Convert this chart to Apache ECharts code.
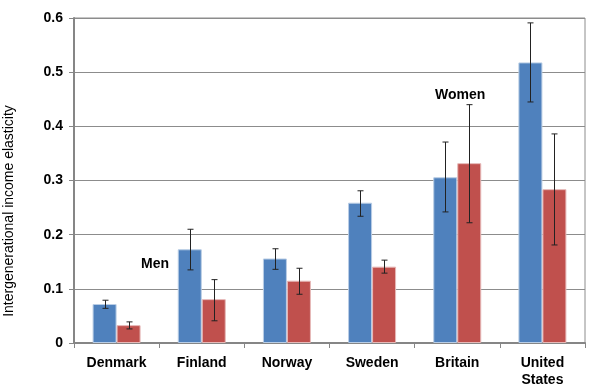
<!DOCTYPE html>
<html><head><meta charset="utf-8">
<script src="https://cdn.jsdelivr.net/npm/echarts@6/dist/echarts.min.js"></script>
<style>html,body{margin:0;padding:0;background:#fff}#c{width:596px;height:388px}</style>
</head><body><div id="c"></div>
<script>
var categories = ['Denmark', 'Finland', 'Norway', 'Sweden', 'Britain', 'United\nStates'];
var yTicks = [0, 0.1, 0.2, 0.3, 0.4, 0.5, 0.6];
var menValues = [0.072, 0.173, 0.156, 0.259, 0.306, 0.518];
var menLow = [0.064, 0.135, 0.136, 0.234, 0.242, 0.445];
var menHigh = [0.079, 0.210, 0.174, 0.281, 0.371, 0.591];
var womenValues = [0.033, 0.081, 0.115, 0.141, 0.332, 0.284];
var womenLow = [0.026, 0.041, 0.090, 0.129, 0.222, 0.181];
var womenHigh = [0.039, 0.117, 0.138, 0.153, 0.440, 0.386];

var BAR_W = 24;
function errData(lo, hi) { return categories.map(function (c, i) { return [i, lo[i], hi[i]]; }); }
function errRender(offset) {
  return function (params, api) {
    var x = api.value(0);
    var lo = api.coord([x, api.value(1)]);
    var hi = api.coord([x, api.value(2)]);
    var cx = Math.round(lo[0] + offset) + 0.5;
    var cap = 3;
    var st = { stroke: '#222', lineWidth: 1 };
    return { type: 'group', children: [
      { type: 'line', shape: { x1: cx, y1: hi[1], x2: cx, y2: lo[1] }, style: st },
      { type: 'line', shape: { x1: cx - cap, y1: hi[1], x2: cx + cap, y2: hi[1] }, style: st },
      { type: 'line', shape: { x1: cx - cap, y1: lo[1], x2: cx + cap, y2: lo[1] }, style: st }
    ]};
  };
}
var chart = echarts.init(document.getElementById('c'));
var font = 'Liberation Sans, Arial, sans-serif';
chart.setOption({
  animation: false,
  grid: { left: 74, right: 11, top: 18, bottom: 45, containLabel: false, outerBoundsMode: 'none',
    show: true, borderColor: '#8c8c8c', borderWidth: 1 },
  xAxis: {
    type: 'category', data: categories,
    axisLine: { lineStyle: { color: '#868686', width: 2 } },
    axisTick: { show: true, length: 5, lineStyle: { color: '#868686' }, alignWithLabel: false },
    axisLabel: { color: '#000', fontWeight: 'bold', fontSize: 14, fontFamily: font, margin: 12, lineHeight: 17 }
  },
  yAxis: {
    type: 'value', min: 0, max: 0.6, interval: 0.1,
    axisLine: { show: true, lineStyle: { color: '#868686', width: 2 } },
    axisTick: { show: true, length: 5, lineStyle: { color: '#868686' } },
    splitLine: { lineStyle: { color: '#8c8c8c', width: 1 } },
    axisLabel: { color: '#000', fontWeight: 'bold', fontSize: 14, fontFamily: font, margin: 11,
      formatter: function (v) { return yTicks.indexOf(Math.round(v * 10) / 10) >= 0 ? String(Math.round(v * 10) / 10) : ''; } }
  },
  series: [
    { name: 'Men', type: 'bar', data: menValues, barWidth: BAR_W, barGap: '0%',
      itemStyle: { color: '#4F81BD', borderColor: '#b9cde5', borderWidth: 1 } },
    { name: 'Women', type: 'bar', data: womenValues, barWidth: BAR_W, barGap: '0%',
      itemStyle: { color: '#C0504D', borderColor: '#e6b9b8', borderWidth: 1 } },
    { type: 'custom', renderItem: errRender(-BAR_W / 2), data: errData(menLow, menHigh), z: 10 },
    { type: 'custom', renderItem: errRender(BAR_W / 2), data: errData(womenLow, womenHigh), z: 10 }
  ],
  graphic: [
    { type: 'text', x: 9, y: 211, rotation: Math.PI / 2,
      style: { text: 'Intergenerational income elasticity', font: '14px ' + font, fill: '#000',
        align: 'center', verticalAlign: 'middle' } },
    { type: 'text', left: 141, top: 257, style: { text: 'Men', font: 'bold 14px ' + font, fill: '#000' } },
    { type: 'text', left: 435, top: 88, style: { text: 'Women', font: 'bold 14px ' + font, fill: '#000' } }
  ]
});
</script></body></html>
